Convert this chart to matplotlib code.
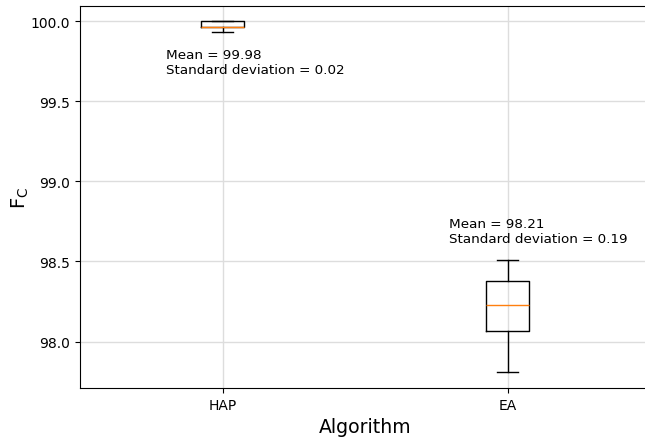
import matplotlib
matplotlib.use("Agg")
import matplotlib.pyplot as plt

categories = ["HAP", "EA"]
whislo = [99.933, 97.812]
q1 = [99.962, 98.065]
med = [99.964, 98.228]
q3 = [100.0, 98.378]
whishi = [100.0, 98.508]
means = [99.98, 98.21]
stds = [0.02, 0.19]
label_x = [0.80, 1.795]
label_y = [99.83, 98.78]

fig = plt.figure(figsize=(6.45, 4.39), dpi=100)
ax = fig.add_axes([80/645, 1-389/439, 570/645, 382/439])

stats = []
for i, c in enumerate(categories):
    stats.append(dict(label=c, whislo=whislo[i], q1=q1[i], med=med[i],
                      q3=q3[i], whishi=whishi[i], fliers=[]))
ax.bxp(stats, positions=[1, 2], showfliers=False)

for i in range(len(categories)):
    ax.text(label_x[i], label_y[i],
            f"Mean = {means[i]:.2f}\nStandard deviation = {stds[i]:.2f}",
            fontsize=9.7, va="top", ha="left")

ax.set_xlim(0.5, 2.5)
ax.set_ylim(97.71, 100.094)
ax.set_yticks([98.0, 98.5, 99.0, 99.5, 100.0])
ax.grid(True, color="#dddddd", linewidth=1)
ax.set_axisbelow(True)
ax.set_xlabel("Algorithm", fontsize=13.6)
ax.set_ylabel(r"$\mathrm{F_C}$", fontsize=14, labelpad=0)

fig.savefig("out.png", dpi=100)
